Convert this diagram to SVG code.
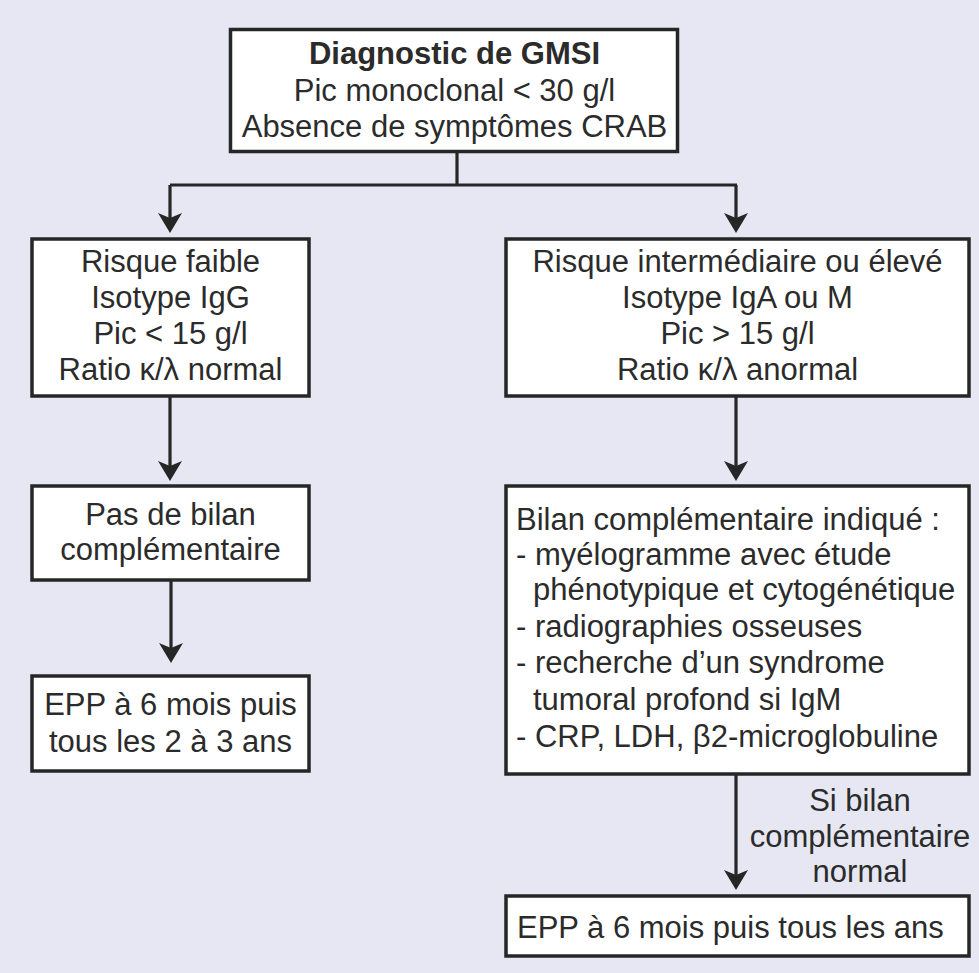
<svg xmlns="http://www.w3.org/2000/svg" width="979" height="973" viewBox="0 0 979 973">
<style>
.box{fill:#ffffff;stroke:#262626;stroke-width:3.5}
.ln{fill:none;stroke:#262626;stroke-width:3.2}
.t{font-family:"Liberation Sans",Arial,Helvetica,sans-serif;font-size:31px;fill:#2b2b2b}
.c{text-anchor:middle}
.b{font-weight:bold}
</style>
<defs>
<path id="ah" d="M0,0 L-12,-20 L0,-15 L12,-20 Z" fill="#262626"/>
</defs>
<rect x="0" y="0" width="979" height="973" fill="#e6e7f2"/>
<g id="connectors">
<path class="ln" d="M457,153 V185 M170,185 H737 M170,185 V226 M736,185 V226"/>
<use href="#ah" x="170" y="233"/>
<use href="#ah" x="736" y="233"/>
<path class="ln" d="M170,397 V474 M736,397 V474 M171,581 V656 M736,775 V883"/>
<use href="#ah" x="170" y="481"/>
<use href="#ah" x="736" y="481"/>
<use href="#ah" x="171" y="663"/>
<use href="#ah" x="736" y="890"/>
</g>
<g id="n_diag">
<rect class="box" x="230.5" y="29.5" width="447" height="122"/>
<text class="t c b" x="454.5" y="64">Diagnostic de GMSI</text>
<text class="t c" x="454.5" y="101">Pic monoclonal &lt; 30 g/l</text>
<text class="t c" x="454.5" y="137">Absence de symptômes CRAB</text>
</g>
<g id="n_faible">
<rect class="box" x="32" y="239" width="277" height="157"/>
<text class="t c" x="170.5" y="272">Risque faible</text>
<text class="t c" x="170.5" y="308">Isotype IgG</text>
<text class="t c" x="170.5" y="344">Pic &lt; 15 g/l</text>
<text class="t c" x="170.5" y="380">Ratio κ/λ normal</text>
</g>
<g id="n_eleve">
<rect class="box" x="506" y="239" width="463" height="157"/>
<text class="t c" x="737.5" y="272">Risque intermédiaire ou élevé</text>
<text class="t c" x="737.5" y="308">Isotype IgA ou M</text>
<text class="t c" x="737.5" y="344">Pic &gt; 15 g/l</text>
<text class="t c" x="737.5" y="380">Ratio κ/λ anormal</text>
</g>
<g id="n_pasbilan">
<rect class="box" x="32" y="486" width="277" height="94"/>
<text class="t c" x="170.5" y="525">Pas de bilan</text>
<text class="t c" x="170.5" y="560">complémentaire</text>
</g>
<g id="n_bilan">
<rect class="box" x="506" y="486" width="463" height="288"/>
<text class="t" x="516" y="530">Bilan complémentaire indiqué :</text>
<text class="t" x="516" y="565">- myélogramme avec étude</text>
<text class="t" x="533" y="600">phénotypique et cytogénétique</text>
<text class="t" x="516" y="637">- radiographies osseuses</text>
<text class="t" x="516" y="673">- recherche d’un syndrome</text>
<text class="t" x="533" y="710">tumoral profond si IgM</text>
<text class="t" x="516" y="747">- CRP, LDH, β2-microglobuline</text>
</g>
<g id="n_epp23">
<rect class="box" x="32" y="676" width="277" height="95"/>
<text class="t c" x="170.5" y="715">EPP à 6 mois puis</text>
<text class="t c" x="170.5" y="752">tous les 2 à 3 ans</text>
</g>
<g id="n_epp1">
<rect class="box" x="506" y="896" width="463" height="60"/>
<text class="t" x="517" y="938">EPP à 6 mois puis tous les ans</text>
</g>
<g id="label">
<text class="t c" x="860" y="811">Si bilan</text>
<text class="t c" x="860" y="847">complémentaire</text>
<text class="t c" x="860" y="882">normal</text>
</g>
</svg>
